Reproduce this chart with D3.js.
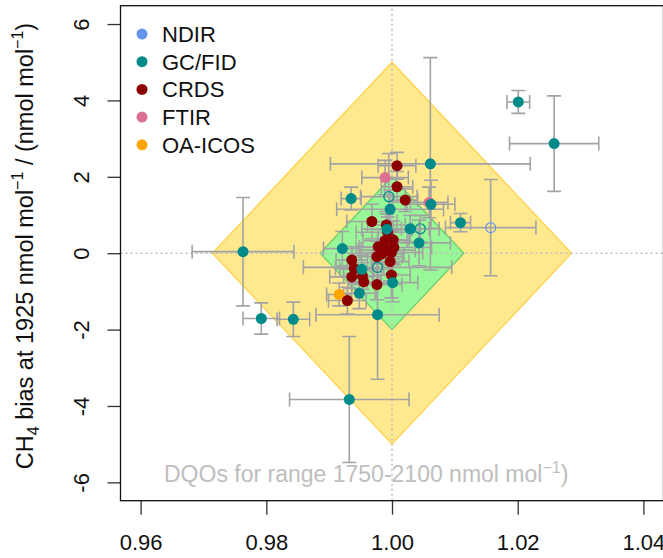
<!DOCTYPE html>
<html>
<head>
<meta charset="utf-8">
<script src="https://cdn.jsdelivr.net/npm/d3@7"></script>
<style>
  body { margin: 0; background: #fff; }
  svg { font-family: "Liberation Sans", Arial, sans-serif; }
</style>
</head>
<body>
<div class="chart"></div>
<script>
// Data: slope (x), bias at 1925 (y), and their uncertainties
var ndirX = [1.0157];
var ndirY = [0.67];
var ndirXu = [0.0072];
var ndirYu = [1.26];
var ndirOpen = [true];

var gcX  = [1.0201, 1.0258, 1.0061, 1.0109, 1.0062, 0.9763, 0.9792, 0.9843, 0.9932, 0.9977,
            0.9935, 0.9997, 0.9992, 1.0029, 1.0043, 0.9921, 0.9952, 1.0001, 0.9948,
            0.9995, 1.0045, 0.9977];
var gcY  = [3.96, 2.87, 2.34, 0.80, 1.28, 0.04, -1.71, -1.73, -3.83, -1.61,
            1.43, 1.15, 0.63, 0.64, 0.27, 0.12, -0.42, -0.77, -1.05,
            1.48, 0.64, -0.37];
var gcXu = [0.0018, 0.0071, 0.0159, 0.0016, 0.0038, 0.0081, 0.0029, 0.0026, 0.0095, 0.0098,
            0.0016, 0.0085, 0.0040, 0.0030, 0.0050, 0.0030, 0.0035, 0.0040, 0.0025,
            0.0045, 0.0030, 0.0118];
var gcYu = [0.30, 1.25, 2.78, 0.24, 0.63, 1.42, 0.41, 0.45, 1.65, 1.69,
            0.30, 0.50, 0.40, 0.35, 0.60, 0.45, 0.35, 0.50, 0.40,
            1.13, 0.35, 0.40];
var gcOpen = [false, false, false, false, false, false, false, false, false, false,
              false, false, false, false, false, false, false, false, false,
              true, true, true];

var crdsX  = [1.0008, 1.0008, 1.0021, 0.9968, 0.9991, 0.9993, 1.0002, 0.9989, 0.9978, 0.9992,
              0.9976, 0.9997, 0.9936, 0.9940, 0.9936, 0.9953, 0.9955, 0.9999, 0.9976, 0.9929,
              1.0003, 0.9984, 0.9999];
var crdsY  = [2.29, 1.74, 1.39, 0.83, 0.74, 0.55, 0.35, 0.33, 0.17, 0.08,
              -0.09, -0.22, -0.18, -0.40, -0.62, -0.60, -0.75, -0.57, -0.82, -1.24,
              0.15, -0.02, 0.02];
var crdsXu = [0.0030, 0.0025, 0.0020, 0.0040, 0.0030, 0.0050, 0.0025, 0.0035, 0.0030, 0.0045,
              0.0040, 0.0030, 0.0025, 0.0030, 0.0035, 0.0030, 0.0025, 0.0030, 0.0040, 0.0030,
              0.0060, 0.0035, 0.0050];
var crdsYu = [0.35, 0.40, 0.30, 0.45, 0.35, 0.40, 0.50, 0.30, 0.45, 0.35,
              0.40, 0.50, 0.35, 0.40, 0.30, 0.35, 0.30, 0.60, 0.40, 0.35,
              0.45, 0.40, 0.55];

var ftirX  = [0.9989, 1.0059];
var ftirY  = [1.98, 1.33];
var ftirXu = [0.0037, 0.0030];
var ftirYu = [0.45, 0.40];

var icosX  = [0.9916];
var icosY  = [-1.08];
var icosXu = [0.0020];
var icosYu = [0.30];

var methods = ["NDIR", "GC/FID", "CRDS", "FTIR", "OA-ICOS"];
var methodColors = ["#6495ED", "#008B8B", "#8B0000", "#DB7093", "#FFA500"];

var xTicks = [0.96, 0.98, 1.00, 1.02, 1.04];
var yTicks = [-6, -4, -2, 0, 2, 4, 6];

// DQO half-widths (nmol/mol) over the 1750-2100 range (half range 175)
var dqoInner = 2;
var dqoOuter = 5;
var halfRange = 175;

// SVG area
var svgWidth = 663;
var svgHeight = 558;

var svg = d3.select(".chart")
  .append("svg")
  .attr("width", svgWidth)
  .attr("height", svgHeight);

var x = d3.scaleLinear().domain([0.9568, 1.0432]).range([120.5, 663.5]);
var y = d3.scaleLinear().domain([-6.48, 6.48]).range([500.7, 5.7]);

// DQO diamonds
function diamond(dq) {
  var s = dq / halfRange;
  return [[1 - s, 0], [1, dq], [1 + s, 0], [1, -dq]];
}
var line = d3.line().x(d => x(d[0])).y(d => y(d[1]));

svg.append("path")
  .attr("d", line(diamond(dqoOuter)) + "Z")
  .attr("fill", "#FFE98E")
  .attr("stroke", "#FFD24A")
  .attr("stroke-width", 1.3);

svg.append("path")
  .attr("d", line(diamond(dqoInner)) + "Z")
  .attr("fill", "#98F898")
  .attr("stroke", "#6CCF6C")
  .attr("stroke-width", 1.3);

// dotted reference lines
svg.append("line")
  .attr("x1", x(1)).attr("x2", x(1))
  .attr("y1", y.range()[0]).attr("y2", y.range()[1])
  .attr("stroke", "#BEBEBE").attr("stroke-width", 1.5)
  .attr("stroke-dasharray", "2,3");
svg.append("line")
  .attr("x1", x.range()[0]).attr("x2", x.range()[1])
  .attr("y1", y(0)).attr("y2", y(0))
  .attr("stroke", "#BEBEBE").attr("stroke-width", 1.5)
  .attr("stroke-dasharray", "2,3");

// Build point lists per method
function pts(xs, ys, xu, yu, color, open) {
  return xs.map((v, i) => ({x: v, y: ys[i], xu: xu[i], yu: yu[i], color: color, open: open ? open[i] : false}));
}
var groups = [
  pts(ndirX, ndirY, ndirXu, ndirYu, methodColors[0], ndirOpen),
  pts(ftirX, ftirY, ftirXu, ftirYu, methodColors[3]),
  pts(icosX, icosY, icosXu, icosYu, methodColors[4]),
  pts(crdsX, crdsY, crdsXu, crdsYu, methodColors[2]),
  pts(gcX, gcY, gcXu, gcYu, methodColors[1], gcOpen)
];
var all = [].concat.apply([], groups);

var cap = 7;
var bars = svg.append("g")
  .attr("stroke", "#A3A3A3")
  .attr("stroke-width", 1.6)
  .attr("fill", "none");

all.forEach(function(d) {
  var cx = x(d.x), cy = y(d.y);
  var x0 = x(d.x - d.xu), x1 = x(d.x + d.xu);
  var y0 = y(d.y - d.yu), y1 = y(d.y + d.yu);
  bars.append("path").attr("d",
    `M${x0},${cy}H${x1}M${x0},${cy - cap}V${cy + cap}M${x1},${cy - cap}V${cy + cap}` +
    `M${cx},${y0}V${y1}M${cx - cap},${y0}H${cx + cap}M${cx - cap},${y1}H${cx + cap}`);
});

svg.append("g").selectAll("circle")
  .data(all)
  .enter()
  .append("circle")
  .attr("cx", d => x(d.x))
  .attr("cy", d => y(d.y))
  .attr("r", d => d.open ? 5 : 5.5)
  .attr("fill", d => d.open ? "none" : d.color)
  .attr("stroke", d => d.open ? d.color : "none")
  .attr("stroke-width", 1.2);

// Axes
var bottomAxis = d3.axisBottom(x).tickValues(xTicks).tickFormat(d3.format(".2f"))
  .tickSize(14).tickPadding(20);
var leftAxis = d3.axisLeft(y).tickValues(yTicks).tickFormat(d => d)
  .tickSize(13);

var gx = svg.append("g")
  .attr("transform", `translate(0, ${y.range()[0]})`)
  .call(bottomAxis);
var gy = svg.append("g")
  .attr("transform", `translate(${x.range()[0]}, 0)`)
  .call(leftAxis);

[gx, gy].forEach(function(g) {
  g.select(".domain").remove();
  g.selectAll("line").attr("stroke", "#333").attr("stroke-width", 1.3);
  g.selectAll("text").attr("fill", "#111").style("font-size", "22px")
    .style("font-family", "'Liberation Sans', Arial, sans-serif");
});
gy.selectAll("text")
  .attr("x", 0).attr("dy", null).attr("y", 0)
  .attr("text-anchor", "middle")
  .attr("transform", "translate(-32,0) rotate(-90)");

// plot box
svg.append("rect")
  .attr("x", x.range()[0]).attr("y", y.range()[1])
  .attr("width", x.range()[1] - x.range()[0])
  .attr("height", y.range()[0] - y.range()[1])
  .attr("fill", "none").attr("stroke", "#111").attr("stroke-width", 1.3);

// Y axis title
var yt = svg.append("text")
  .attr("transform", "translate(33, 246) rotate(-90)")
  .attr("text-anchor", "middle")
  .style("font-size", "23.5px")
  .attr("fill", "#111");
yt.append("tspan").text("CH");
yt.append("tspan").attr("dy", 6).style("font-size", "16px").text("4");
yt.append("tspan").attr("dy", -6).text(" bias at 1925 nmol mol");
yt.append("tspan").attr("dy", -10).style("font-size", "16px").text("\u22121");
yt.append("tspan").attr("dy", 10).text(" / (nmol mol");
yt.append("tspan").attr("dy", -10).style("font-size", "16px").text("\u22121");
yt.append("tspan").attr("dy", 10).text(")");

// DQO note
var note = svg.append("text")
  .attr("x", 164).attr("y", 482)
  .style("font-size", "23px")
  .attr("fill", "#BEBEBE");
note.append("tspan").text("DQOs for range 1750-2100 nmol mol");
note.append("tspan").attr("dy", -9).style("font-size", "16px").text("\u22121");
note.append("tspan").attr("dy", 9).text(")");

// Legend
var legend = svg.append("g");
methods.forEach(function(m, i) {
  var ly = 34 + i * 27.7;
  legend.append("circle").attr("cx", 142).attr("cy", ly).attr("r", 5.5)
    .attr("fill", methodColors[i]);
  legend.append("text").attr("x", 162).attr("y", ly + 8)
    .style("font-size", "22px").attr("fill", "#111").text(m);
});
</script>
</body>
</html>
